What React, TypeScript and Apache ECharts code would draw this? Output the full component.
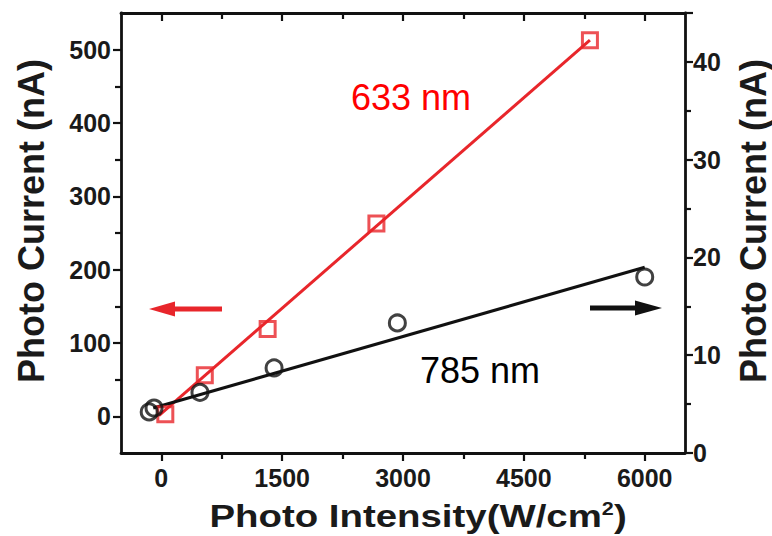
import React, { useEffect, useRef } from "react";
import * as echarts from "echarts";

// ---- data ----
const red633Points: number[][] = [
  [50, 3],
  [540, 56],
  [1320, 119],
  [2670, 263],
  [5320, 513],
];
const red633Fit: number[][] = [
  [-30, 1],
  [5320, 513],
];
const black785Points: number[][] = [
  [-150, 4.2],
  [-90, 4.6],
  [480, 6.2],
  [1400, 8.7],
  [2930, 13.3],
  [6000, 18.0],
];
const black785Fit: number[][] = [
  [-100, 4.6],
  [6000, 19.0],
];
const xMajorTicks = [0, 1500, 3000, 4500, 6000];
const xMinorTicks = [750, 2250, 3750, 5250];
const yLeftMajorTicks = [0, 100, 200, 300, 400, 500];
const yLeftMinorTicks = [50, 150, 250, 350, 450];

const FONT = "'Liberation Sans', Arial, sans-serif";
const RED = "#e8262b";
const AXIS = "#111";

export default function App() {
  const ref = useRef<HTMLDivElement>(null);
  useEffect(() => {
    if (!ref.current) return;
    const chart = echarts.init(ref.current, null, { renderer: "svg" });
    const lineStyle = { color: AXIS, width: 2.8 };
    const tickStyle = { color: AXIS, width: 2.2 };
    const tickLabel = {
      fontFamily: FONT,
      fontWeight: "bold" as const,
      fontSize: 25,
      color: "#1a1a1a",
      formatter: (v: number) => String(v),
    };
    const xBase = {
      type: "value",
      min: -500,
      max: 6500,
      offset: 0,
      splitLine: { show: false },
    };
    const yLeftBase = {
      type: "value",
      min: -50,
      max: 550,
      offset: 0,
      splitLine: { show: false },
    };
    const option: any = {
      animation: false,
      backgroundColor: "#fff",
      grid: { left: 121, right: 87, top: 13, bottom: 83, containLabel: false },
      xAxis: [
        {
          ...xBase,
          position: "bottom",
          axisLine: { show: true, onZero: false, lineStyle },
          axisTick: { show: true, customValues: xMajorTicks, length: 8, lineStyle: tickStyle },
          axisLabel: { ...tickLabel, customValues: xMajorTicks, margin: 12 },
        },
        {
          ...xBase,
          position: "bottom",
          axisLine: { show: false, onZero: false },
          axisTick: { show: true, customValues: xMinorTicks, length: 6, lineStyle: tickStyle },
          axisLabel: { show: false },
        },
        {
          ...xBase,
          position: "top",
          axisLine: { show: true, onZero: false, lineStyle },
          axisTick: { show: true, inside: true, customValues: xMajorTicks, length: 8, lineStyle: tickStyle },
          axisLabel: { show: false },
        },
        {
          ...xBase,
          position: "top",
          axisLine: { show: false, onZero: false },
          axisTick: { show: true, inside: true, customValues: xMinorTicks, length: 6, lineStyle: tickStyle },
          axisLabel: { show: false },
        },
      ],
      yAxis: [
        {
          ...yLeftBase,
          position: "left",
          axisLine: { show: true, onZero: false, lineStyle },
          axisTick: { show: true, customValues: yLeftMajorTicks, length: 8, lineStyle: tickStyle },
          axisLabel: { ...tickLabel, customValues: yLeftMajorTicks, margin: 10 },
        },
        {
          type: "value",
          position: "right",
          offset: 0,
          min: 0,
          max: 45,
          interval: 10,
          axisLine: { show: true, onZero: false, lineStyle },
          axisTick: { show: true, length: 8, lineStyle: tickStyle },
          minorTick: { show: true, splitNumber: 2, length: 6, lineStyle: tickStyle },
          axisLabel: { ...tickLabel, margin: 8, formatter: (v: number) => (v > 40 ? "" : String(v)) },
          splitLine: { show: false },
          minorSplitLine: { show: false },
        },
        {
          ...yLeftBase,
          position: "left",
          axisLine: { show: false, onZero: false },
          axisTick: { show: true, customValues: yLeftMinorTicks, length: 6, lineStyle: tickStyle },
          axisLabel: { show: false },
        },
      ],
      series: [
        {
          name: "633 nm fit",
          type: "line",
          xAxisIndex: 0,
          yAxisIndex: 0,
          data: red633Fit,
          symbol: "none",
          lineStyle: { color: RED, width: 3 },
          z: 2,
        },
        {
          name: "633 nm",
          type: "scatter",
          xAxisIndex: 0,
          yAxisIndex: 0,
          data: red633Points,
          symbol: "rect",
          symbolSize: 15,
          itemStyle: { color: "rgba(255,255,255,0)", borderColor: RED, borderWidth: 3 },
          z: 3,
        },
        {
          name: "785 nm fit",
          type: "line",
          xAxisIndex: 0,
          yAxisIndex: 1,
          data: black785Fit,
          symbol: "none",
          lineStyle: { color: "#111", width: 3 },
          z: 2,
        },
        {
          name: "785 nm",
          type: "scatter",
          xAxisIndex: 0,
          yAxisIndex: 1,
          data: black785Points,
          symbol: "circle",
          symbolSize: 16,
          itemStyle: { color: "rgba(255,255,255,0)", borderColor: "#111", borderWidth: 3 },
          z: 3,
        },
      ],
      graphic: [
        {
          type: "text",
          x: 418,
          y: 516,
          scaleX: 1.2,
          style: {
            text: "Photo Intensity(W/cm{sup|2})",
            font: `bold 32px ${FONT}`,
            fill: "#1a1a1a",
            align: "center",
            verticalAlign: "middle",
            rich: {
              sup: { fontSize: 18, fontWeight: "bold", fontFamily: FONT, verticalAlign: "top", fill: "#1a1a1a" },
            },
          },
        },
        {
          type: "text",
          x: 31,
          y: 221,
          rotation: Math.PI / 2,
          style: {
            text: "Photo Current (nA)",
            font: `bold 36px ${FONT}`,
            fill: "#1a1a1a",
            align: "center",
            verticalAlign: "middle",
          },
        },
        {
          type: "text",
          x: 753,
          y: 221,
          rotation: Math.PI / 2,
          style: {
            text: "Photo Current (nA)",
            font: `bold 36px ${FONT}`,
            fill: "#1a1a1a",
            align: "center",
            verticalAlign: "middle",
          },
        },
        {
          type: "text",
          x: 411,
          y: 97,
          style: {
            text: "633 nm",
            font: `36px ${FONT}`,
            fill: "#ff0000",
            align: "center",
            verticalAlign: "middle",
          },
        },
        {
          type: "text",
          x: 480,
          y: 370,
          style: {
            text: "785 nm",
            font: `36px ${FONT}`,
            fill: "#000",
            align: "center",
            verticalAlign: "middle",
          },
        },
        {
          type: "line",
          shape: { x1: 168, y1: 309, x2: 222, y2: 309 },
          style: { stroke: RED, lineWidth: 5 },
        },
        {
          type: "polygon",
          shape: { points: [[149, 309], [175, 301.5], [175, 316.5]] },
          style: { fill: RED },
        },
        {
          type: "line",
          shape: { x1: 590, y1: 308, x2: 640, y2: 308 },
          style: { stroke: "#111", lineWidth: 5 },
        },
        {
          type: "polygon",
          shape: { points: [[662, 308], [635, 300.5], [635, 315.5]] },
          style: { fill: "#111" },
        },
      ],
    };
    chart.setOption(option);
    return () => chart.dispose();
  }, []);
  return (
    <div
      ref={ref}
      style={{ position: "fixed", left: 0, top: 0, width: 772, height: 536, background: "#fff" }}
    />
  );
}
